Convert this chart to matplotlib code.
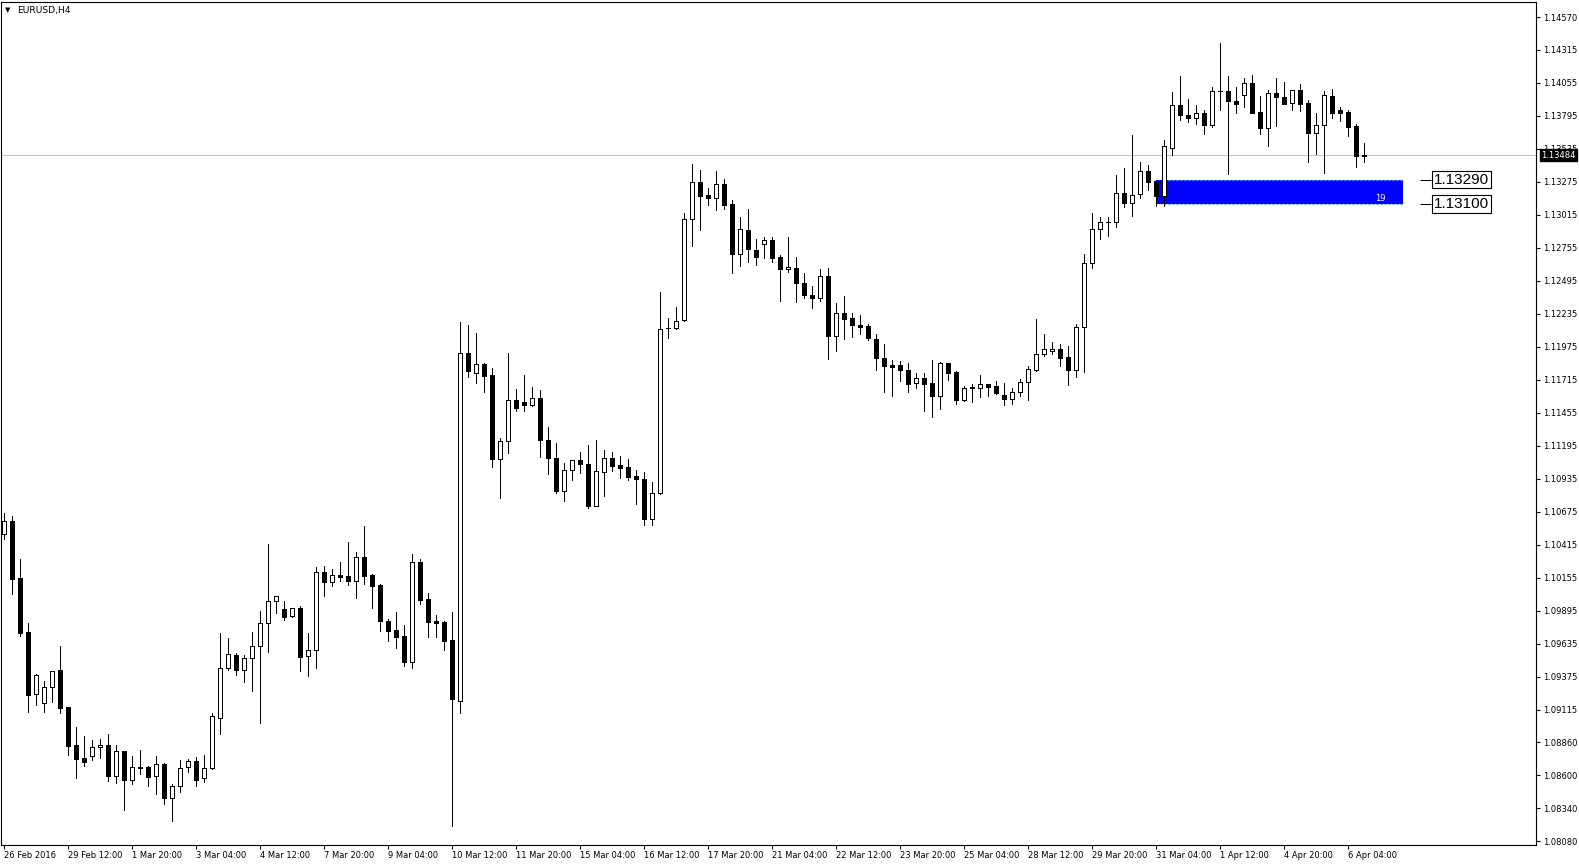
import matplotlib
matplotlib.use("Agg")
import matplotlib.pyplot as plt
from matplotlib.patches import Rectangle

# EURUSD H4 bars (open, high, low, close)
opens = [1.10497, 1.10602, 1.10153, 1.09728, 1.09236, 1.09166, 1.09292, 1.09428, 1.09137, 1.08837,
         1.08735, 1.08753, 1.08819, 1.08837, 1.08596, 1.08790, 1.08559, 1.08664, 1.08664, 1.08590,
         1.08690, 1.08417, 1.08512, 1.08666, 1.08711, 1.08575, 1.08653, 1.09053, 1.09441, 1.09546,
         1.09426, 1.09520, 1.09615, 1.09796, 1.09969, 1.09906, 1.09851, 1.09917, 1.09536, 1.09583,
         1.10198, 1.10119, 1.10174, 1.10166, 1.10127, 1.10316, 1.10174, 1.10098, 1.09812, 1.09741,
         1.09693, 1.09489, 1.10277, 1.09985, 1.09812, 1.09806, 1.09662, 1.09187, 1.11924, 1.11766,
         1.11837, 1.11750, 1.11094, 1.11230, 1.11556, 1.11537, 1.11519, 1.11569, 1.11238, 1.11096,
         1.10841, 1.11002, 1.11080, 1.11049, 1.10723, 1.10991, 1.11096, 1.11044, 1.11025, 1.10954,
         1.10931, 1.10621, 1.10820, 1.12120, 1.12121, 1.12184, 1.12979, 1.13271, 1.13169, 1.13145,
         1.13255, 1.13098, 1.12709, 1.12893, 1.12735, 1.12782, 1.12814, 1.12680, 1.12585, 1.12593,
         1.12478, 1.12383, 1.12362, 1.12530, 1.12058, 1.12239, 1.12199, 1.12144, 1.12139, 1.12036,
         1.11887, 1.11829, 1.11829, 1.11790, 1.11687, 1.11729, 1.11687, 1.11590, 1.11847, 1.11776,
         1.11558, 1.11653, 1.11653, 1.11682, 1.11666, 1.11595, 1.11566, 1.11616, 1.11695, 1.11790,
         1.11921, 1.11939, 1.11955, 1.11892, 1.11795, 1.12128, 1.12633, 1.12901, 1.12956, 1.12956,
         1.13184, 1.13106, 1.13176, 1.13358, 1.13282, 1.13166, 1.13539, 1.13878, 1.13799, 1.13775,
         1.13815, 1.13725, 1.13988, 1.13988, 1.13912, 1.13957, 1.14051, 1.13825, 1.13697, 1.13972,
         1.13941, 1.13894, 1.13996, 1.13894, 1.13657, 1.13725, 1.13949, 1.13841, 1.13823, 1.13712,
         1.13482]
highs = [1.10668, 1.10642, 1.10300, 1.09796, 1.09399, 1.09342, 1.09420, 1.09617, 1.09140, 1.08979,
         1.08908, 1.08877, 1.08885, 1.08924, 1.08837, 1.08792, 1.08751, 1.08798, 1.08674, 1.08748,
         1.08692, 1.08527, 1.08719, 1.08727, 1.08743, 1.08758, 1.09087, 1.09720, 1.09680, 1.09560,
         1.09544, 1.09728, 1.09893, 1.10421, 1.10009, 1.09972, 1.09919, 1.09932, 1.09720, 1.10240,
         1.10248, 1.10224, 1.10279, 1.10437, 1.10358, 1.10563, 1.10185, 1.10106, 1.09830, 1.09885,
         1.09783, 1.10342, 1.10303, 1.10032, 1.09862, 1.09812, 1.09885, 1.12170, 1.12147, 1.12081,
         1.11847, 1.11805, 1.11256, 1.11926, 1.11642, 1.11753, 1.11656, 1.11632, 1.11343, 1.11214,
         1.11057, 1.11080, 1.11143, 1.11199, 1.11241, 1.11162, 1.11146, 1.11115, 1.11094, 1.11002,
         1.10986, 1.10912, 1.12407, 1.12199, 1.12289, 1.13027, 1.13413, 1.13366, 1.13226, 1.13360,
         1.13297, 1.13132, 1.12995, 1.13061, 1.12822, 1.12843, 1.12840, 1.12698, 1.12843, 1.12683,
         1.12557, 1.12454, 1.12585, 1.12593, 1.12320, 1.12375, 1.12241, 1.12223, 1.12155, 1.12076,
         1.11997, 1.11871, 1.11861, 1.11847, 1.11769, 1.11769, 1.11871, 1.11855, 1.11849, 1.11787,
         1.11664, 1.11682, 1.11753, 1.11684, 1.11706, 1.11687, 1.11650, 1.11721, 1.11826, 1.12194,
         1.12076, 1.12013, 1.11997, 1.11981, 1.12152, 1.12706, 1.13027, 1.12998, 1.12998, 1.13329,
         1.13381, 1.13644, 1.13431, 1.13408, 1.13284, 1.13605, 1.13983, 1.14109, 1.13928, 1.13880,
         1.13841, 1.14020, 1.14369, 1.14109, 1.14025, 1.14093, 1.14117, 1.13951, 1.13999, 1.14093,
         1.14062, 1.13996, 1.14046, 1.13917, 1.13820, 1.13991, 1.14007, 1.13865, 1.13841, 1.13728,
         1.13581]
lows = [1.10458, 1.10030, 1.09699, 1.09100, 1.09155, 1.09100, 1.09179, 1.09092, 1.08758, 1.08580,
        1.08674, 1.08722, 1.08737, 1.08554, 1.08538, 1.08325, 1.08533, 1.08606, 1.08517, 1.08451,
        1.08372, 1.08241, 1.08469, 1.08627, 1.08517, 1.08548, 1.08651, 1.08924, 1.09431, 1.09391,
        1.09336, 1.09265, 1.09013, 1.09573, 1.09880, 1.09825, 1.09843, 1.09423, 1.09384, 1.09447,
        1.10014, 1.10093, 1.10132, 1.10101, 1.09998, 1.10109, 1.09919, 1.09738, 1.09659, 1.09604,
        1.09462, 1.09447, 1.09951, 1.09691, 1.09691, 1.09588, 1.08202, 1.09092, 1.11740, 1.11687,
        1.11621, 1.11030, 1.10786, 1.11141, 1.11472, 1.11472, 1.11511, 1.11109, 1.10975, 1.10826,
        1.10763, 1.10925, 1.10983, 1.10707, 1.10721, 1.10802, 1.10999, 1.10944, 1.10925, 1.10734,
        1.10568, 1.10568, 1.10818, 1.12042, 1.12119, 1.12182, 1.12772, 1.12898, 1.13095, 1.13056,
        1.13064, 1.12554, 1.12614, 1.12646, 1.12617, 1.12677, 1.12646, 1.12339, 1.12562, 1.12331,
        1.12362, 1.12283, 1.12339, 1.11876, 1.11945, 1.12034, 1.12050, 1.12079, 1.12026, 1.11790,
        1.11621, 1.11585, 1.11708, 1.11621, 1.11653, 1.11472, 1.11424, 1.11488, 1.11716, 1.11524,
        1.11551, 1.11540, 1.11582, 1.11590, 1.11603, 1.11519, 1.11527, 1.11587, 1.11556, 1.11788,
        1.11905, 1.11918, 1.11826, 1.11677, 1.11740, 1.11779, 1.12599, 1.12827, 1.12851, 1.12922,
        1.13079, 1.13008, 1.13150, 1.13211, 1.13087, 1.13087, 1.13486, 1.13762, 1.13749, 1.13733,
        1.13652, 1.13704, 1.13841, 1.13337, 1.13820, 1.13867, 1.13818, 1.13655, 1.13560, 1.13718,
        1.13889, 1.13841, 1.13836, 1.13434, 1.13497, 1.13347, 1.13778, 1.13757, 1.13639, 1.13395,
        1.13434]
closes = [1.10602, 1.10148, 1.09722, 1.09234, 1.09389, 1.09292, 1.09418, 1.09131, 1.08832, 1.08730,
          1.08706, 1.08821, 1.08835, 1.08593, 1.08790, 1.08564, 1.08664, 1.08653, 1.08588, 1.08685,
          1.08422, 1.08514, 1.08653, 1.08709, 1.08564, 1.08653, 1.09063, 1.09441, 1.09552, 1.09428,
          1.09520, 1.09615, 1.09796, 1.09969, 1.10009, 1.09848, 1.09914, 1.09533, 1.09583, 1.10198,
          1.10119, 1.10174, 1.10164, 1.10127, 1.10316, 1.10172, 1.10088, 1.09817, 1.09738, 1.09691,
          1.09489, 1.10277, 1.09982, 1.09809, 1.09801, 1.09659, 1.09197, 1.11924, 1.11782, 1.11837,
          1.11748, 1.11094, 1.11230, 1.11556, 1.11495, 1.11519, 1.11569, 1.11238, 1.11101, 1.10841,
          1.11002, 1.11080, 1.11049, 1.10723, 1.10994, 1.11096, 1.11038, 1.11023, 1.10952, 1.10931,
          1.10621, 1.10820, 1.12113, 1.12121, 1.12181, 1.12979, 1.13271, 1.13166, 1.13145, 1.13255,
          1.13095, 1.12709, 1.12901, 1.12743, 1.12685, 1.12814, 1.12677, 1.12585, 1.12601, 1.12475,
          1.12381, 1.12362, 1.12530, 1.12063, 1.12239, 1.12191, 1.12144, 1.12134, 1.12042, 1.11884,
          1.11826, 1.11818, 1.11790, 1.11685, 1.11729, 1.11685, 1.11590, 1.11847, 1.11771, 1.11558,
          1.11650, 1.11658, 1.11679, 1.11661, 1.11614, 1.11566, 1.11616, 1.11695, 1.11797, 1.11921,
          1.11955, 1.11955, 1.11889, 1.11795, 1.12128, 1.12633, 1.12901, 1.12956, 1.12957, 1.13184,
          1.13106, 1.13174, 1.13358, 1.13276, 1.13166, 1.13555, 1.13878, 1.13804, 1.13781, 1.13815,
          1.13725, 1.13988, 1.13989, 1.13909, 1.13891, 1.14051, 1.13820, 1.13702, 1.13972, 1.13941,
          1.13891, 1.13996, 1.13891, 1.13662, 1.13725, 1.13957, 1.13820, 1.13820, 1.13710, 1.13482,
          1.13484]

date_labels = ["26 Feb 2016", "29 Feb 12:00", "1 Mar 20:00", "3 Mar 04:00", "4 Mar 12:00",
               "7 Mar 20:00", "9 Mar 04:00", "10 Mar 12:00", "11 Mar 20:00", "15 Mar 04:00",
               "16 Mar 12:00", "17 Mar 20:00", "21 Mar 04:00", "22 Mar 12:00", "23 Mar 20:00",
               "25 Mar 04:00", "28 Mar 12:00", "29 Mar 20:00", "31 Mar 04:00", "1 Apr 12:00",
               "4 Apr 20:00", "6 Apr 04:00"]
bars_per_label = 8

price_ticks = [1.14570, 1.14315, 1.14055, 1.13795, 1.13535, 1.13275, 1.13015, 1.12755, 1.12495,
               1.12235, 1.11975, 1.11715, 1.11455, 1.11195, 1.10935, 1.10675, 1.10415, 1.10155,
               1.09895, 1.09635, 1.09375, 1.09115, 1.08860, 1.08600, 1.08340, 1.08080]

symbol = "EURUSD,H4"
last_price = 1.13484
zone_high = 1.13290
zone_low = 1.13100
zone_start = 144
zone_end = 174.85
zone_text = "19"

W, H = 1579, 866
px = 72 / 100  # one pixel in points

fig = plt.figure(figsize=(W / 100, H / 100), dpi=100)
ax = fig.add_axes([1 / W, 21 / H, 1535 / W, 843 / H])
ax.set_xlim(-0.375, 191.5)
ax.set_ylim(1.08049, 1.14692)

x = list(range(len(opens)))

# zone rectangle (drawn as background)
ax.add_patch(Rectangle((zone_start, zone_low), zone_end - zone_start, zone_high - zone_low,
                       facecolor="#0000FF", edgecolor="none", zorder=0.5))
ax.hlines([zone_high, zone_low], zone_start + 1, zone_end, colors="#4DA6FF",
          linestyles=(0, (2, 2)), lw=px, zorder=0.6)
ax.text(zone_end - 2.2, zone_low + 0.00006, zone_text, color="white", fontsize=6,
        ha="right", va="bottom", zorder=0.7)

# current price line
ax.axhline(last_price, color="#C0C0C0", lw=px, zorder=1)

# candles
ax.vlines(x, lows, highs, color="black", lw=px, antialiased=False, zorder=2)
bottoms = [min(o, c) for o, c in zip(opens, closes)]
heights = [abs(c - o) for o, c in zip(opens, closes)]
fills = ["white" if c >= o else "black" for o, c in zip(opens, closes)]
ax.bar(x, heights, bottom=bottoms, width=0.42, color=fills, edgecolor="black",
       linewidth=px, antialiased=False, zorder=3)

# zone price labels
for lvl in (zone_high, zone_low):
    ax.hlines(lvl, 177.0, 178.4, color="black", lw=px)
    ax.text(178.75, lvl, f"{lvl:.5f}", fontsize=11, family="Liberation Sans",
            ha="left", va="center", zorder=5,
            bbox=dict(boxstyle="square,pad=0.1", fc="white", ec="black", lw=0.8))

# axes styling
for s in ax.spines.values():
    s.set_color("black")
    s.set_linewidth(0.8)

ax.yaxis.tick_right()
ax.set_yticks(price_ticks)
ax.set_yticklabels([f"{p:.5f}" for p in price_ticks])
ax.tick_params(axis="y", length=3, width=0.8, pad=2, labelsize=6, colors="black")

tick_pos = [i * bars_per_label for i in range(len(date_labels))]
ax.set_xticks(tick_pos)
ax.set_xticklabels(date_labels)
ax.tick_params(axis="x", length=3, width=0.8, pad=1.5, labelsize=6)
for lab in ax.get_xticklabels():
    lab.set_horizontalalignment("left")

# last price box on the price scale
ax.text(1.0035, last_price, f"{last_price:.5f}", transform=ax.get_yaxis_transform(),
        color="white", fontsize=6, ha="left", va="center", zorder=10, clip_on=False,
        bbox=dict(boxstyle="square,pad=0.2", fc="black", ec="black"))

# symbol caption
fig.text(5 / W, 1 - 10 / H, "\u25bc", fontsize=5, va="center", ha="left")
fig.text(17 / W, 1 - 10 / H, symbol, fontsize=6.6, va="center", ha="left")

fig.savefig("out.png", dpi=100, facecolor="white")
